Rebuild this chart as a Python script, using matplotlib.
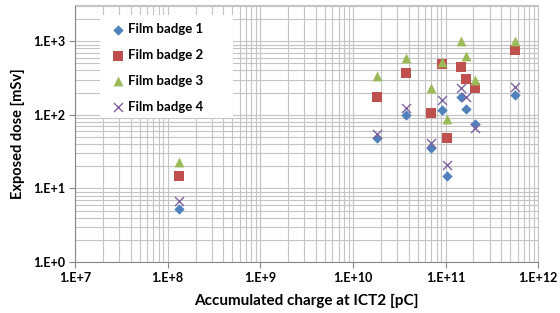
import math
import matplotlib
matplotlib.use("Agg")
import matplotlib.pyplot as plt
from matplotlib.patches import Rectangle
from matplotlib.ticker import LogLocator, FuncFormatter, NullFormatter

plt.rcParams['font.family'] = ['Lato', 'DejaVu Sans']

# accumulated charge [pC]
charge = [1.31e8, 1.82e10, 3.7e10, 7.0e10, 9.15e10, 1.035e11, 1.48e11, 1.68e11, 2.06e11, 5.62e11]

# exposed dose [mSv] per film badge
badge1 = [5.2, 49, 98, 35.5, 115, 14.7, 172, 120, 76, 188]
badge2 = [14.7, 172, 370, 107, 486, 49, 447, 311, 232, 769]
badge3 = [22.7, 337, 592, 234, 522, 89, 997, 624, 301, 1006]
badge4 = [6.7, 54.5, 124, 40.8, 158, 20.7, 232, 175, 66.4, 235]

labels = ['Film badge 1', 'Film badge 2', 'Film badge 3', 'Film badge 4']

fig = plt.figure(figsize=(5.6, 3.13), dpi=100)
ax = fig.add_axes([0.134, 0.163, 0.827, 0.821])

ax.scatter(charge, badge1, marker='D', s=28, color='#4F81BD', label=labels[0], zorder=3, linewidths=0)
ax.scatter(charge, badge2, marker='s', s=42, color='#C0504D', label=labels[1], zorder=3, linewidths=0)
ax.scatter(charge, badge3, marker='^', s=50, color='#9BBB59', label=labels[2], zorder=3, linewidths=0)
ax.scatter(charge, badge4, marker='x', s=42, color='#8064A2', label=labels[3], zorder=3, linewidths=1.0)

ax.set_xscale('log')
ax.set_yscale('log')
ax.set_xlim(1e7, 1e12)
ax.set_ylim(1e0, 3.1e3)

ax.xaxis.set_major_locator(LogLocator(base=10, numticks=10))
ax.yaxis.set_major_locator(LogLocator(base=10, numticks=10))
ax.xaxis.set_minor_locator(LogLocator(base=10, subs=range(2, 10), numticks=20))
ax.yaxis.set_minor_locator(LogLocator(base=10, subs=range(2, 10), numticks=20))
fmt = FuncFormatter(lambda v, p: "1.E+%d" % round(math.log10(v)))
ax.xaxis.set_major_formatter(fmt)
ax.yaxis.set_major_formatter(fmt)
ax.xaxis.set_minor_formatter(NullFormatter())
ax.yaxis.set_minor_formatter(NullFormatter())

ax.grid(True, which='both', color='#C4C4C4', lw=0.8)
ax.set_axisbelow(True)
ax.tick_params(which='minor', length=0)
ax.tick_params(which='major', length=4, color='#868686', labelsize=9, pad=3)
for lbl in ax.get_xticklabels() + ax.get_yticklabels():
    lbl.set_fontweight('bold')

for s in ['left', 'bottom']:
    ax.spines[s].set_color('#868686')
for s in ['top', 'right']:
    ax.spines[s].set_color('#C4C4C4')
    ax.spines[s].set_linewidth(0.8)

ax.set_xlabel('Accumulated charge at ICT2 [pC]', fontsize=11, fontweight='bold', labelpad=7)
ax.set_ylabel('Exposed dose [mSv]', fontsize=10.5, fontweight='bold', labelpad=6)

# white box behind the legend
ax.add_patch(Rectangle((0.054, 0.56), 0.287, 0.401, transform=ax.transAxes,
                       facecolor='white', edgecolor='none', zorder=2.5))
leg = ax.legend(loc='upper left', bbox_to_anchor=(0.065, 0.950), frameon=False,
                prop={'weight': 'bold', 'size': 9.5}, handletextpad=0.1, labelspacing=1.05,
                borderpad=0.4, handlelength=1.2, borderaxespad=0)

fig.savefig('out.png', dpi=100)
